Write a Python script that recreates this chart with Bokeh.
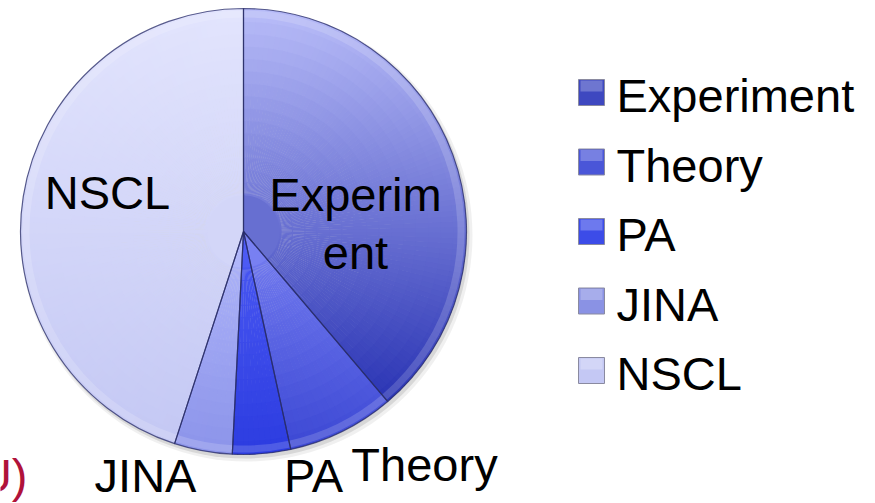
import numpy as np
from bokeh.plotting import figure
from bokeh.models import Range1d
from bokeh.embed import file_html
from bokeh.resources import INLINE
from bokeh.core.properties import value

# ---------------- data ----------------
categories = ["Experiment", "Theory", "PA", "JINA", "NSCL"]
shares = [38.8, 7.8, 4.2, 4.2, 45.0]
top_colors = ["#b8bcf8", "#7880f2", "#4c5af4", "#b0b6fa", "#e2e4fd"]
bottom_colors = ["#2a34b4", "#3c48d4", "#2c3ce0", "#8c94ea", "#c4c8f4"]
legend_colors = ["#3e48c0", "#4a56d8", "#3c4ce8", "#8a92e4", "#c4c8f4"]
cut_text = "U)"

# ---------------- layout (reference pixels) ----------------
W, H = 875, 503
CX, CY = 243, 231
R = 223
FONT = "Liberation Sans"
FS = "47px"
TY = 18  # baseline correction for text placement


def X(px):
    return px - CX


def Y(py):
    return CY - py


p = figure(width=W, height=H, output_backend="svg", toolbar_location=None,
           x_range=Range1d(X(0), X(W)), y_range=Range1d(Y(H), Y(0)),
           min_border=0, x_axis_location=None, y_axis_location=None)
p.grid.visible = False
p.outline_line_color = None
p.background_fill_color = "white"


def hex2rgb(h):
    h = h.lstrip("#")
    return np.array([int(h[i:i + 2], 16) for i in (0, 2, 4)], dtype=float)


def rgb2hex(c):
    c = np.clip(np.round(c), 0, 255).astype(int)
    return "#%02x%02x%02x" % tuple(c)


fr = np.array(shares, dtype=float) / sum(shares)
cum = np.concatenate([[0.0], np.cumsum(fr)])
starts = np.pi / 2 - cum[1:] * 2 * np.pi
ends = np.pi / 2 - cum[:-1] * 2 * np.pi

# soft shadow
p.circle(x=3, y=-4, radius=R + 3, fill_color="black", fill_alpha=0.06, line_color=None)
p.circle(x=2, y=-3, radius=R + 1, fill_color="black", fill_alpha=0.10, line_color=None)

# gradient-filled slices
ri, ro, sa, ea, col = [], [], [], [], []
base_col = []
rings = 18
k0 = 3
for i in range(len(categories)):
    a0, a1 = starts[i], ends[i]
    samp = np.linspace(a0, a1, 200)
    ys = np.concatenate([[0.0], R * np.sin(samp)])
    ymin, ymax = ys.min(), ys.max()
    c_top, c_bot = hex2rgb(top_colors[i]), hex2rgb(bottom_colors[i])
    t0 = (ymax - 0.0) / (ymax - ymin)
    base_col.append(rgb2hex(c_top + (c_bot - c_top) * t0))
    n_ang = max(3, int(np.degrees(a1 - a0) / 1.5))
    edges = np.linspace(a0, a1, n_ang + 1)
    for j in range(n_ang):
        am = 0.5 * (edges[j] + edges[j + 1])
        for k in range(k0, rings):
            r_in = R * k / rings
            r_out = R * (k + 1) / rings
            rm = 0.5 * (r_in + r_out)
            y = rm * np.sin(am)
            t = (ymax - y) / (ymax - ymin)
            c = rgb2hex(c_top + (c_bot - c_top) * t)
            ri.append(r_in - 1.0)
            ro.append(r_out)
            sa.append(edges[j] - (0.004 if j > 0 else 0.0))
            ea.append(edges[j + 1])
            col.append(c)
p.wedge(x=0, y=0, radius=R * k0 / rings + 1, start_angle=list(starts), end_angle=list(ends),
        fill_color=base_col, line_color=None)
p.annular_wedge(x=0, y=0, inner_radius=ri, outer_radius=ro, start_angle=sa, end_angle=ea,
                fill_color=col, line_color=None)

# bevel highlight along the rim
p.annular_wedge(x=0, y=0, inner_radius=R - 9, outer_radius=R - 2,
                start_angle=list(starts), end_angle=list(ends),
                fill_color="white", fill_alpha=0.16, line_color=None)

# slice outlines
p.wedge(x=0, y=0, radius=R, start_angle=list(starts), end_angle=list(ends),
        fill_color=None, line_color="#262a66", line_width=1.2, line_alpha=0.75)

# slice labels
lab_x = [X(355), X(355), X(424), X(313), X(145), X(107)]
lab_y = [Y(212 - TY), Y(270 - TY), Y(482 - TY), Y(493 - TY), Y(493 - TY), Y(210 - TY)]
lab_t = [categories[0][:7], categories[0][7:], categories[1], categories[2], categories[3], categories[4]]
p.text(x=lab_x, y=lab_y, text=lab_t, text_font=value(FONT), text_font_size=FS,
       text_align="center", text_baseline="alphabetic", text_color="black")

# cut-off red text at bottom-left
p.text(x=[X(27)], y=[Y(493 - TY)], text=[cut_text], text_font=value(FONT), text_font_size=FS,
       text_align="right", text_baseline="alphabetic", text_color="#b0123a")

# legend
sq = 26
n = len(categories)
leg_cy = [Y(92 + i * 69.5) for i in range(n)]
leg_by = [Y(113 - TY + i * 69.5) for i in range(n)]
p.rect(x=[X(591)] * n, y=leg_cy, width=sq, height=sq,
       fill_color=legend_colors, line_color="#8a8aa0", line_width=1)
p.rect(x=[X(591)] * n, y=[v + sq / 4 for v in leg_cy], width=sq - 4, height=sq / 2 - 2,
       fill_color="white", fill_alpha=0.25, line_color=None)
p.text(x=[X(616)] * n, y=leg_by, text=categories, text_font=value(FONT),
       text_font_size=FS, text_align="left", text_baseline="alphabetic", text_color="black")

open("out.html", "w").write(file_html(p, INLINE))
